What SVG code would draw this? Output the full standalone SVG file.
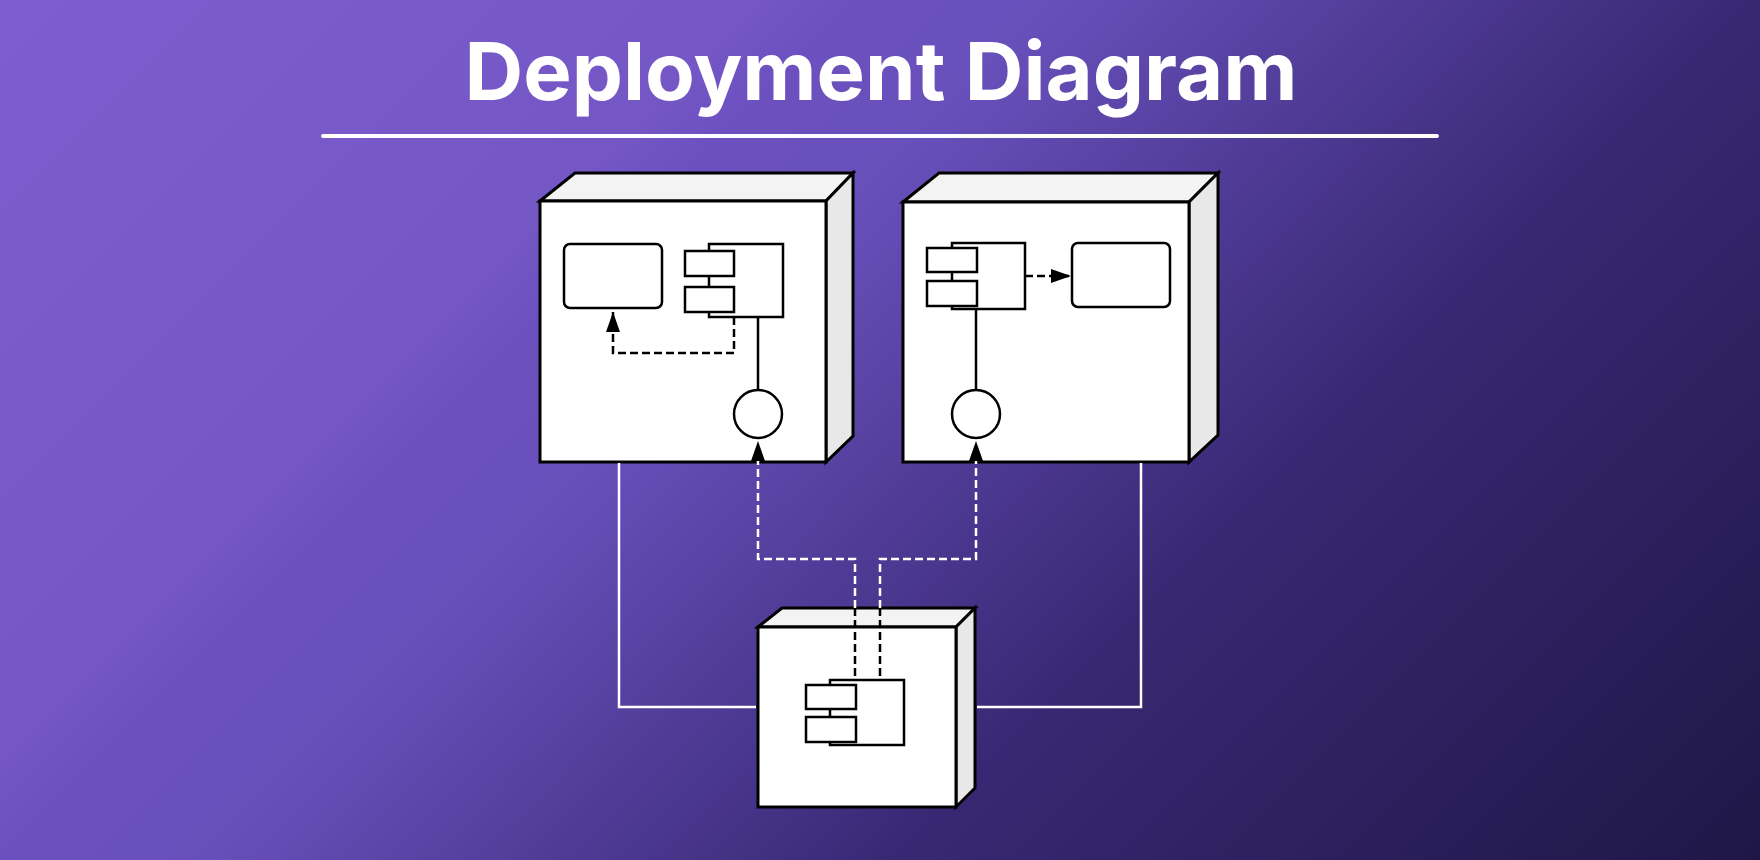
<svg xmlns="http://www.w3.org/2000/svg" width="1760" height="860" viewBox="0 0 1760 860">
  <defs>
    <linearGradient id="bg" gradientUnits="userSpaceOnUse" x1="0" y1="0" x2="1310" y2="1310">
      <stop offset="0" stop-color="#7c5ed0"/>
      <stop offset="0.29" stop-color="#7456c5"/>
      <stop offset="0.33" stop-color="#6c50bf"/>
      <stop offset="0.40" stop-color="#6850bb"/>
      <stop offset="0.67" stop-color="#382873"/>
      <stop offset="1" stop-color="#1e1746"/>
    </linearGradient>
    <marker id="arrow" viewBox="0 0 20 14" refX="20" refY="7" markerWidth="20" markerHeight="14" markerUnits="userSpaceOnUse" orient="auto">
      <path d="M0,0 L20,7 L0,14 Z" fill="#000"/>
    </marker>
  </defs>
  <style>
    .front { fill: #ffffff; stroke: #000; stroke-width: 3; stroke-linejoin: miter; }
    .top { fill: #f3f3f3; stroke: #000; stroke-width: 3; stroke-linejoin: miter; }
    .side { fill: #e8e8e8; stroke: #000; stroke-width: 3; stroke-linejoin: miter; }
    .box { fill: #ffffff; stroke: #000; stroke-width: 2.5; }
    .thin { fill: none; stroke: #000; stroke-width: 2.5; }
    .dash-b { fill: none; stroke: #000; stroke-width: 2.5; stroke-dasharray: 8 4; }
    .dash-w { fill: none; stroke: #ffffff; stroke-width: 2.5; stroke-dasharray: 8 4; }
    .solid-w { fill: none; stroke: #ffffff; stroke-width: 2.5; }
    .title { font-family: Inter, "Liberation Sans", sans-serif; font-weight: 700; font-size: 80px; fill: #ffffff; }
  </style>

  <rect x="0" y="0" width="1760" height="860" fill="url(#bg)"/>

  <g id="title">
    <text class="title" x="881" y="100" text-anchor="middle" textLength="833" lengthAdjust="spacingAndGlyphs">Deployment Diagram</text>
    <line x1="323" y1="136" x2="1437" y2="136" stroke="#ffffff" stroke-width="4" stroke-linecap="round"/>
  </g>

  <g id="node-left">
    <polygon class="top" points="540,201 575,173 853,173 826,201"/>
    <polygon class="side" points="826,201 853,173 853,436 826,462"/>
    <rect class="front" x="540" y="201" width="286" height="261"/>
    <rect class="box" x="564" y="244" width="98" height="64" rx="6"/>
    <rect class="box" x="709" y="244" width="74" height="73"/>
    <rect class="box" x="685" y="251" width="49" height="25"/>
    <rect class="box" x="685" y="287" width="49" height="25"/>
    <line class="thin" x1="758" y1="317" x2="758" y2="390"/>
    <circle class="box" cx="758" cy="414" r="24"/>
  </g>

  <g id="node-right">
    <polygon class="top" points="903,202 939,173 1218,173 1189,202"/>
    <polygon class="side" points="1189,202 1218,173 1218,435 1189,462"/>
    <rect class="front" x="903" y="202" width="286" height="260"/>
    <rect class="box" x="1072" y="243" width="98" height="64" rx="6"/>
    <rect class="box" x="952" y="243" width="73" height="66"/>
    <rect class="box" x="927" y="248" width="50" height="24"/>
    <rect class="box" x="927" y="281" width="50" height="25"/>
    <line class="thin" x1="976" y1="309" x2="976" y2="390"/>
    <circle class="box" cx="976" cy="414" r="24"/>
  </g>

  <g id="node-bottom">
    <polygon class="top" points="758,627 782,608 975,608 956,627"/>
    <polygon class="side" points="956,627 975,608 975,788 956,807"/>
    <rect class="front" x="758" y="627" width="198" height="180"/>
    <rect class="box" x="830" y="680" width="74" height="65"/>
    <rect class="box" x="806" y="685" width="50" height="24"/>
    <rect class="box" x="806" y="717" width="50" height="25"/>
  </g>

  <g id="connectors">
    <path class="dash-b" d="M734,317 V353 H613 V312" marker-end="url(#arrow)"/>
    <path class="dash-b" d="M1025,276 H1071" marker-end="url(#arrow)"/>
    <path class="dash-w" d="M855,608 V559 H758 V441" marker-end="url(#arrow)"/>
    <path class="dash-w" d="M880,608 V559 H976 V441" marker-end="url(#arrow)"/>
    <line class="dash-b" x1="855" y1="608" x2="855" y2="680"/>
    <line class="dash-b" x1="880" y1="608" x2="880" y2="680"/>
    <path class="solid-w" d="M619,463 V707 H756"/>
    <path class="solid-w" d="M1141,463 V707 H977"/>
  </g>
</svg>
